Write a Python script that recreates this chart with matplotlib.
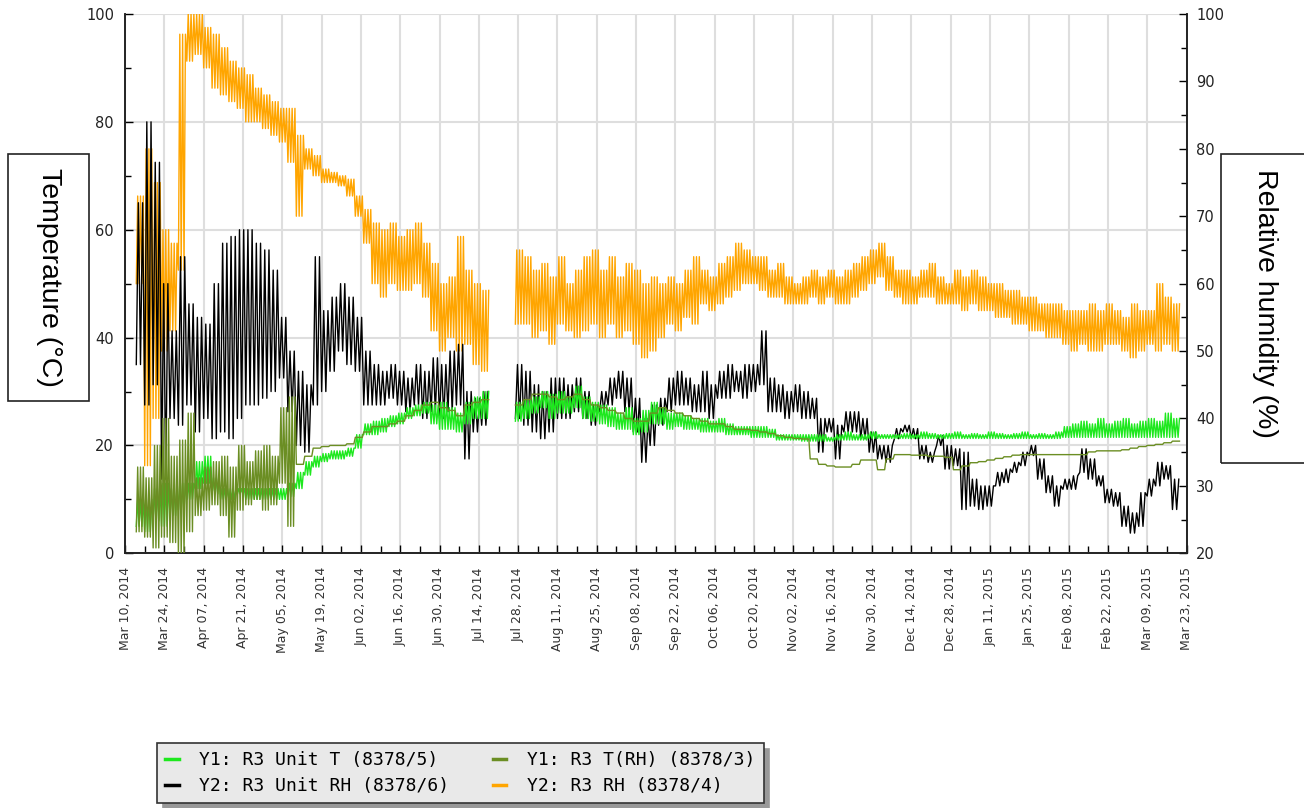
import numpy as np
import matplotlib.pyplot as plt
from matplotlib.patches import Rectangle
from matplotlib.lines import Line2D

nan = np.nan

# samples every 3 days, counted in days from Mar 10, 2014 (first sample on day 4)
day0 = 4
step = 3

tick_labels = ['Mar 10, 2014', 'Mar 24, 2014', 'Apr 07, 2014', 'Apr 21, 2014', 'May 05, 2014',
               'May 19, 2014', 'Jun 02, 2014', 'Jun 16, 2014', 'Jun 30, 2014', 'Jul 14, 2014',
               'Jul 28, 2014', 'Aug 11, 2014', 'Aug 25, 2014', 'Sep 08, 2014', 'Sep 22, 2014',
               'Oct 06, 2014', 'Oct 20, 2014', 'Nov 02, 2014', 'Nov 16, 2014', 'Nov 30, 2014',
               'Dec 14, 2014', 'Dec 28, 2014', 'Jan 11, 2015', 'Jan 25, 2015', 'Feb 08, 2015',
               'Feb 22, 2015', 'Mar 09, 2015', 'Mar 23, 2015']

# Y2: R3 RH (8378/4), % - low / high of each 3 day window
rh_lo = [60, 33, 40, 50, 53, 62, 93, 94, 92, 89,
         88, 87, 86, 84, 84, 83, 82, 81, 78, 70,
         77, 76, 75, 75, 74.5, 73, 70, 66, 60, 58,
         60, 59, 59, 60, 58, 53, 50, 52, 50, 51,
         48, 47, nan, nan, nan, 54, 54, 52, 53, 51,
         54, 53, 52, 53, 54, 52, 54, 52, 53, 51,
         49, 50, 52, 54, 53, 55, 54, 57, 56, 57,
         58, 59, 60, 60, 59, 58, 58, 57, 57, 57,
         58, 57, 58, 57, 57, 58, 59, 60, 61, 59,
         58, 57, 57, 58, 58, 57, 57, 57, 56, 57,
         56, 56, 55, 55, 54, 54, 53, 53, 52, 52,
         51, 50, 51, 50, 50, 51, 51, 50, 49, 50,
         51, 50, 51, 50]
rh_hi = [73, 80, 75, 68, 66, 97, 100, 100, 98, 97,
         95, 93, 92, 91, 89, 88, 87, 86, 86, 82,
         80, 79, 77, 76.5, 76, 75.5, 73, 71, 69, 68,
         69, 67, 68, 69, 66, 63, 60, 61, 67, 62,
         60, 59, nan, nan, nan, 65, 64, 62, 63, 61,
         64, 60, 62, 64, 65, 62, 64, 61, 63, 62,
         60, 61, 60, 61, 60, 62, 64, 62, 61, 63,
         64, 66, 65, 64, 64, 62, 63, 61, 60, 61,
         62, 61, 62, 61, 62, 63, 64, 65, 66, 64,
         62, 62, 61, 62, 63, 61, 60, 62, 61, 62,
         61, 60, 60, 59, 59, 58, 58, 57, 57, 57,
         56, 56, 56, 57, 56, 57, 56, 55, 57, 56,
         56, 60, 58, 57]

# Y2: R3 Unit RH (8378/6), %
unit_rh_lo = [48, 42, 45, 31, 40, 39, 42, 38, 40, 37,
              38, 37, 40, 42, 42, 43, 44, 46, 41, 36,
              35, 42, 44, 47, 50, 48, 47, 42, 42, 42,
              43, 42, 41, 42, 40, 41, 40, 41, 42, 34,
              38, 39, nan, nan, nan, 40, 39, 38, 37, 38,
              40, 40, 41, 40, 39, 41, 42, 43, 41, 38,
              33.5, 36, 39, 41, 42, 42, 41, 41, 40, 43,
              43, 44, 43, 44, 45, 41, 41, 40, 41, 40,
              40, 35, 38, 34, 38, 38, 37, 35, 34, 33.5,
              37, 38, 37, 34, 33.5, 36, 32.5, 33, 26.5, 27,
              26.5, 27, 30, 30.5, 32, 33, 34.5, 31, 29, 27,
              29.5, 29.5, 32, 31, 30, 27.5, 27, 24, 23, 24,
              28.5, 30, 31, 26.5]
unit_rh_hi = [72, 84, 78, 60, 53, 64, 57, 55, 54, 60,
              66, 67, 68, 68, 66, 65, 62, 55, 50, 47,
              45, 64, 56, 58, 60, 58, 55, 50, 48, 47,
              48, 47, 46, 48, 47, 49, 48, 50, 51, 44,
              43, 44, nan, nan, nan, 48, 47, 45, 44, 46,
              46, 45, 46, 44, 42, 44, 46, 47, 46, 43,
              40, 42, 43, 46, 47, 46, 45, 47, 45, 47,
              48, 47, 48, 48, 53, 46, 45, 44, 45, 44,
              43, 40, 40, 39, 41, 41, 40, 38, 36, 36,
              38.5, 39, 38.5, 36, 35, 37.5, 36, 35.5, 35, 31,
              30, 30, 32, 32.5, 33.5, 35, 36, 34, 31.5, 30,
              31, 31.5, 35.5, 34, 31.5, 29.5, 29, 27, 26, 29,
              31, 33.5, 33, 31]

# Y1: R3 Unit T (8378/5), C
unit_t_lo = [5, 4, 6, 5, 7, 8, 10, 12, 13, 11,
             10, 10, 11, 10, 10, 10, 10, 10, 10.5, 12,
             14.5, 16, 17, 17.5, 17.5, 18, 19.5, 22, 22, 22.5,
             23.5, 24, 25, 25.5, 26, 24, 23, 23, 22.5, 24,
             25, 25, nan, nan, nan, 24.5, 25, 26, 27, 25,
             26, 26, 27, 25, 24.5, 24, 23.5, 23, 23, 22,
             22.5, 24, 24, 23, 23.5, 23, 23, 22.5, 22.5, 22.5,
             22, 22, 22, 21.5, 21.5, 21.5, 21, 21, 21, 20.8,
             20.8, 20.8, 20.8, 21, 21, 21, 21, 21.3, 21.3, 21.3,
             21.3, 21.3, 21.3, 21.3, 21.3, 21.3, 21.3, 21.3, 21.3, 21.3,
             21.3, 21.3, 21.3, 21.3, 21.3, 21.3, 21.3, 21.3, 21.3, 21.3,
             21.5, 21.5, 21.5, 21.5, 21.5, 21.5, 21.5, 21.5, 21.5, 21.5,
             21.5, 21.5, 21.5, 21.5]
unit_t_hi = [10, 10, 12, 13, 12, 13, 13, 17, 18, 14,
             12, 12, 12, 12, 12, 12, 12, 12, 13, 15,
             17, 18, 18.5, 19, 19, 19.5, 22, 24, 24.5, 25,
             25.5, 26, 27, 27.5, 28, 27.5, 28, 27, 26, 28,
             29, 30, nan, nan, nan, 28, 28.5, 29, 30, 29.5,
             30, 29, 31, 29, 28, 27.5, 27, 26, 27, 25,
             26.5, 28, 27, 26, 26, 25.5, 25, 25, 24.5, 25,
             24, 23.5, 23.5, 23.5, 23.5, 23, 22, 22, 22, 22,
             22, 22, 21.5, 22, 22.5, 22, 22, 22.5, 22, 22,
             22, 22.2, 22, 22.5, 22.2, 22, 22.2, 22.5, 22, 22.2,
             22, 22.5, 22.2, 22, 22.2, 22.5, 22, 22.2, 22, 22.5,
             23.5, 24, 24.5, 24, 25, 24, 24.5, 25, 24, 24.5,
             25, 24.5, 26, 25]

# Y1: R3 T(RH) (8378/3), C
t_rh_hi = [16, 14, 20, 25, 18, 21, 26, 14, 16, 17,
           18, 16, 20, 17, 19, 20, 18, 27, 29, 16.5,
           18, 19.5, 19.8, 20, 20, 20.3, 21.5, 22.5, 23.5, 23.5,
           24, 24.5, 25.5, 26.5, 27.5, 28, 27, 26.5, 25.5, 27.5,
           28, 28.5, nan, nan, nan, 27.5, 28.5, 29.5, 29.5, 29,
           28.5, 29, 29.5, 28.5, 27.5, 27, 26.5, 26, 25, 24.5,
           24.5, 26, 27, 26.5, 26, 25.5, 25, 24.5, 24, 24,
           23.5, 23, 23, 22.8, 22.5, 22.2, 21.8, 21.5, 21.3, 21.2,
           17.5, 16.5, 16.2, 16, 16, 16.5, 17.3, 17.3, 15.5, 17.5,
           18.3, 18.3, 18.2, 18.2, 18, 18, 17.8, 15.5, 16.2, 16.8,
           17, 17.3, 17.6, 17.9, 18.2, 18.3, 18.3, 18.3, 18.3, 18.3,
           18.3, 18.3, 18.3, 18.8, 19, 19, 19, 19.2, 19.5, 19.8,
           20, 20.2, 20.5, 20.8]
t_rh_lo = [4, 3, 1, 3, 2, 0, 4, 7, 8, 9,
           7, 3, 8, 9, 10, 8, 9, 13, 5] + t_rh_hi[19:]


def zigzag(lo, hi, n=3):
    # swing between the low and high reading n times inside each 3 day window
    d = day0 + step * np.arange(len(lo))
    off = np.arange(2 * n) * step / (2 * n)
    t = (d[:, None] + off[None, :]).ravel()
    v = np.where(np.arange(2 * n)[None, :] % 2 == 0,
                 np.asarray(lo, float)[:, None], np.asarray(hi, float)[:, None]).ravel()
    return t, v


c_green = '#1ee81e'
c_olive = '#6b8e23'
c_black = '#000000'
c_orange = '#ffa500'

fig = plt.figure(figsize=(13.04, 8.08), dpi=100)
ax1 = fig.add_axes([0.0959, 0.3152, 0.8140, 0.6675])
ax2 = ax1.twinx()
ax3 = fig.add_axes(ax1.get_position(), sharex=ax1, sharey=ax1)
ax1.set_zorder(0)
ax2.set_zorder(1)
ax3.set_zorder(2)
ax2.patch.set_visible(False)
ax3.patch.set_visible(False)
ax3.axis('off')

t, v = zigzag(rh_lo, rh_hi, 3)
ax2.plot(t, v, color=c_orange, lw=1.0)
t, v = zigzag(unit_rh_lo, unit_rh_hi, 2)
ax2.plot(t, v, color=c_black, lw=1.0)
t, v = zigzag(unit_t_lo, unit_t_hi, 3)
ax3.plot(t, v, color=c_green, lw=1.0)
t, v = zigzag(t_rh_lo, t_rh_hi, 3)
ax3.plot(t, v, color=c_olive, lw=1.0)

ax1.set_xlim(0, 378)
ax1.set_ylim(0, 100)
ax2.set_ylim(20, 100)

ax1.set_xticks(np.arange(len(tick_labels)) * 14)
ax1.set_xticks(np.arange(0, 379, 7), minor=True)
ax1.set_xticklabels(tick_labels, rotation=90, fontsize=9, color='#333333')
ax1.set_yticks(np.arange(0, 101, 20))
ax1.set_yticks(np.arange(10, 100, 20), minor=True)
ax2.set_yticks(np.arange(20, 101, 10))
ax2.set_yticks(np.arange(25, 100, 10), minor=True)

ax1.tick_params(axis='x', which='major', direction='in', length=6, width=1, pad=10)
ax1.tick_params(axis='x', which='minor', direction='in', length=5, width=1)
ax1.tick_params(axis='y', which='major', direction='in', length=6, width=1, pad=8,
                labelsize=10.5, labelcolor='#222222')
ax1.tick_params(axis='y', which='minor', direction='in', length=4.5, width=1)
ax2.tick_params(axis='y', which='major', direction='in', length=6, width=1, pad=7,
                labelsize=10.5, labelcolor='#222222')
ax2.tick_params(axis='y', which='minor', direction='in', length=4.5, width=1)

ax1.grid(True, which='major', color='#dedede', lw=1.5)
ax1.set_axisbelow(True)
for ax in (ax1, ax2):
    ax.spines['top'].set_visible(False)
    for s in ('left', 'right', 'bottom'):
        ax.spines[s].set_linewidth(1.2)
        ax.spines[s].set_color('#222222')

# boxed axis titles
fig.patches.append(Rectangle((8 / 1304, 1 - 401 / 808), 81 / 1304, 247 / 808,
                             transform=fig.transFigure, fill=False, ec='#222222', lw=1.2))
fig.patches.append(Rectangle((1221 / 1304, 1 - 463 / 808), 100 / 1304, 309 / 808,
                             transform=fig.transFigure, fill=False, ec='#222222', lw=1.2))
fig.text(48.5 / 1304, 1 - 277.5 / 808, 'Temperature (°C)', rotation=270, fontsize=20.5,
         family='Liberation Sans', ha='center', va='center')
fig.text(1265 / 1304, 1 - 303.5 / 808, 'Relative humidity (%)', rotation=270, fontsize=20.5,
         family='Liberation Sans', ha='center', va='center')

handles = [Line2D([], [], color=c_green, lw=2.5), Line2D([], [], color=c_black, lw=2.5),
           Line2D([], [], color=c_olive, lw=2.5), Line2D([], [], color=c_orange, lw=2.5)]
labels = ['Y1: R3 Unit T (8378/5)', 'Y2: R3 Unit RH (8378/6)',
          'Y1: R3 T(RH) (8378/3)', 'Y2: R3 RH (8378/4)']
leg = fig.legend(handles, labels, ncol=2, loc='upper left',
                 bbox_to_anchor=(157 / 1304, 1 - 743 / 808),
                 prop={'family': 'DejaVu Sans Mono', 'size': 13},
                 frameon=True, fancybox=False,
                 shadow={'color': '0.6', 'alpha': 1, 'ox': 4, 'oy': -4},
                 facecolor='#e9e9e9', edgecolor='#333333', framealpha=1,
                 handlelength=0.75, handletextpad=1.15, columnspacing=2.4,
                 borderpad=0.45, labelspacing=0.45, borderaxespad=0)
leg.get_frame().set_linewidth(1.2)

fig.savefig('out.png', dpi=100)
